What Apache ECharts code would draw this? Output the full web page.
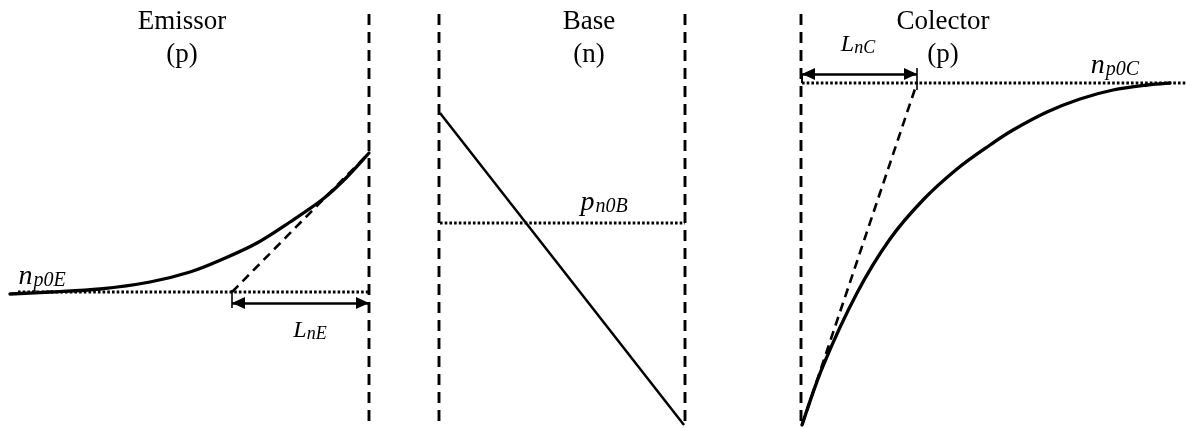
<!DOCTYPE html>
<html>
<head>
<meta charset="utf-8">
<script src="https://cdn.jsdelivr.net/npm/echarts@6/dist/echarts.min.js"></script>
<style>
  html, body { margin: 0; padding: 0; background: #ffffff; }
  #chart { width: 1186px; height: 428px; }
</style>
</head>
<body>
<div id="chart"></div>
<script>
// Diagram extent (x: position, y: carrier concentration, arbitrary units)
const xRange = [0, 1186];
const yRange = [0, 428];

// Metallurgical junction boundaries (E-B and B-C depletion edges)
const junctionX = [369, 439, 685, 801];
const junctionTop = 414;

// Emitter (p): minority electrons n_p(x)
const emitterX = [10, 50, 100, 150, 190, 223, 257, 290, 323, 347, 369];
const emitterN = [134, 136, 139, 146, 156, 169, 185, 206, 229, 251, 275];
const emitterEq = 136;                 // n_p0E
const emitterEqX = [18, 369];
const emitterTangentX = [232, 369];
const emitterTangentN = [136, 275];
const emitterLengthX = [232, 369];     // L_nE
const emitterLengthY = 125;

// Base (n): minority holes p_n(x), linear profile
const baseX = [440, 684];
const baseP = [315, 3];
const baseEq = 205;                    // p_n0B
const baseEqX = [440, 685];

// Collector (p): minority electrons n_p(x)
const collectorX = [802, 823, 857, 890, 923, 957, 990, 1013, 1047, 1080, 1113, 1147, 1170];
const collectorN = [3, 62, 135, 189, 228, 259, 283, 298, 316, 329, 338, 343, 345];
const collectorEq = 345;               // n_p0C
const collectorEqX = [802, 1186];
const collectorTangentX = [802, 917];
const collectorTangentN = [3, 345];
const collectorLengthX = [802, 917];   // L_nC
const collectorLengthY = 354;

// Region titles
const regionNames = ['Emissor\n(p)', 'Base\n(n)', 'Colector\n(p)'];
const regionCenters = [182, 589, 943];
const regionLabelY = 390;

// Symbol labels: [x, y, main, subscript, style]
const symbolLabels = [
  [42, 151, 'n', 'p0E', 'big'],
  [604, 225, 'p', 'n0B', 'big'],
  [1115, 362, 'n', 'p0C', 'big'],
  [310, 97, 'L', 'nE', 'small'],
  [858, 383, 'L', 'nC', 'small']
];

const BLACK = '#000000';
const SERIF = "'Liberation Serif', 'DejaVu Serif', serif";

function pairs(xs, ys) { return xs.map((x, i) => [x, ys[i]]); }

// Smooth profile through the sampled points (Catmull-Rom, drawn in pixel space)
function curveSeries(points) {
  return {
    type: 'custom', silent: true, clip: false,
    data: [0],
    renderItem: (params, api) => {
      const p = points.map(pt => api.coord(pt));
      let d = 'M' + p[0][0] + ',' + p[0][1];
      for (let i = 0; i < p.length - 1; i++) {
        const p0 = p[Math.max(i - 1, 0)], p1 = p[i], p2 = p[i + 1], p3 = p[Math.min(i + 2, p.length - 1)];
        const c1 = [p1[0] + (p2[0] - p0[0]) / 6, p1[1] + (p2[1] - p0[1]) / 6];
        const c2 = [p2[0] - (p3[0] - p1[0]) / 6, p2[1] - (p3[1] - p1[1]) / 6];
        d += ' C' + c1[0] + ',' + c1[1] + ' ' + c2[0] + ',' + c2[1] + ' ' + p2[0] + ',' + p2[1];
      }
      return {
        type: 'path',
        shape: { pathData: d },
        style: { fill: null, stroke: BLACK, lineWidth: 3.3, lineCap: 'round', lineJoin: 'round' }
      };
    }
  };
}

const series = [];

// Junction boundaries (dashed verticals)
junctionX.forEach(x => {
  series.push({
    type: 'line', silent: true, showSymbol: false, clip: false,
    data: [[x, junctionTop], [x, yRange[0]]],
    lineStyle: { color: BLACK, width: 2.9, type: [11, 7] }
  });
});

// Equilibrium levels (dotted)
[[emitterEqX, emitterEq], [baseEqX, baseEq], [collectorEqX, collectorEq]].forEach(([xs, y]) => {
  series.push({
    type: 'line', silent: true, showSymbol: false, clip: false,
    data: [[xs[0], y], [xs[1], y]],
    lineStyle: { color: BLACK, width: 2.8, type: [2.6, 2.1] }
  });
});

// Carrier profiles
series.push(curveSeries(pairs(emitterX, emitterN)));
series.push({
  type: 'line', silent: true, showSymbol: false, clip: false,
  data: pairs(baseX, baseP),
  lineStyle: { color: BLACK, width: 2.5 }
});
series.push(curveSeries(pairs(collectorX, collectorN)));

// Tangents at the junctions (dashed)
[[emitterTangentX, emitterTangentN], [collectorTangentX, collectorTangentN]].forEach(([xs, ys]) => {
  series.push({
    type: 'line', silent: true, showSymbol: false, clip: false,
    data: pairs(xs, ys),
    lineStyle: { color: BLACK, width: 2.6, type: [9, 6] }
  });
});

// Diffusion length markers: double arrows plus end ticks
function lengthMarker(xs, y, tickX, tickSpan) {
  return {
    type: 'line', silent: true, showSymbol: false, clip: false,
    data: [[tickX, y + tickSpan[0]], [tickX, y + tickSpan[1]]],
    lineStyle: { color: BLACK, width: 1.6 },
    markLine: {
      silent: true,
      symbol: ['triangle', 'triangle'],
      symbolSize: [12, 13],
      symbolOffset: [[0, '50%'], [0, '50%']],
      label: { show: false },
      lineStyle: { color: BLACK, width: 2.7, type: 'solid' },
      emphasis: { disabled: true },
      data: [[{ coord: [xs[0], y] }, { coord: [xs[1], y] }]]
    }
  };
}
series.push(lengthMarker(emitterLengthX, emitterLengthY, emitterLengthX[0], [13, -5]));
series.push(lengthMarker(collectorLengthX, collectorLengthY, collectorLengthX[1], [6, -16]));
series.push({
  type: 'line', silent: true, showSymbol: false, clip: false,
  data: [[collectorLengthX[0], collectorLengthY], [collectorLengthX[0], collectorEq]],
  lineStyle: { color: BLACK, width: 2 }
});

// Region titles
series.push({
  type: 'scatter', silent: true, symbolSize: 0,
  itemStyle: { opacity: 1 },
  data: regionCenters.map((x, i) => ({ value: [x, regionLabelY], name: regionNames[i] })),
  label: {
    show: true, position: 'inside', formatter: p => p.name, opacity: 1,
    fontFamily: SERIF, fontSize: 27, lineHeight: 33, color: BLACK, align: 'center'
  }
});

// Concentration and length symbols with subscripts
series.push({
  type: 'scatter', silent: true, symbolSize: 0,
  itemStyle: { opacity: 1 },
  data: symbolLabels.map(l => ({ value: [l[0], l[1]], name: l[2] + '|' + l[3] + '|' + l[4] })),
  label: {
    show: true, position: 'inside', color: BLACK, opacity: 1,
    formatter: p => {
      const [m, s, k] = p.name.split('|');
      return k === 'big' ? '{m|' + m + '}{s|' + s + '}' : '{lm|' + m + '}{ls|' + s + '}';
    },
    rich: {
      m: { fontFamily: SERIF, fontStyle: 'italic', fontSize: 28, lineHeight: 28, verticalAlign: 'top', color: BLACK },
      s: { fontFamily: SERIF, fontStyle: 'italic', fontSize: 20, lineHeight: 20, verticalAlign: 'bottom', padding: [13, 0, 0, 1], color: BLACK },
      lm: { fontFamily: SERIF, fontStyle: 'italic', fontSize: 24, lineHeight: 24, verticalAlign: 'top', color: BLACK },
      ls: { fontFamily: SERIF, fontStyle: 'italic', fontSize: 18, lineHeight: 18, verticalAlign: 'bottom', padding: [11, 0, 0, 0], color: BLACK }
    }
  }
});

const chart = echarts.init(document.getElementById('chart'), null, { renderer: 'canvas' });
chart.setOption({
  animation: false,
  backgroundColor: '#ffffff',
  grid: { left: 0, right: 0, top: 0, bottom: 0 },
  xAxis: { type: 'value', min: xRange[0], max: xRange[1], show: false },
  yAxis: { type: 'value', min: yRange[0], max: yRange[1], show: false },
  series: series
});
</script>
</body>
</html>
